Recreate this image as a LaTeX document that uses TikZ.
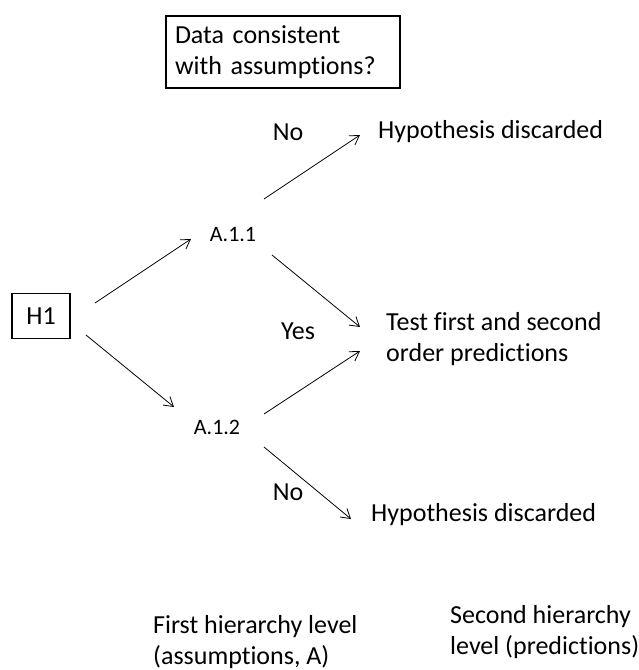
\documentclass[tikz,border=0pt]{standalone}
\usepackage{fontspec}
\setmainfont{Carlito}[Ligatures=NoCommon]
\usetikzlibrary{arrows.meta}
\begin{document}
\begin{tikzpicture}[x=1pt,y=-1pt,
    every node/.style={font=\fontsize{26}{31}\selectfont},
    small/.style={font=\fontsize{22}{25}\selectfont},
    box/.style={draw,line width=1.3pt},
    arr/.style={line width=0.8pt,-{Straight Barb[length=9pt,width=11pt]}}]
                \useasboundingbox (0,0) rectangle (638,670);
                \node (dq) [box,minimum width=234,minimum height=72,align=left,text width=216] at (283,52) {Data consistent\\with assumptions?};
                \node (h1) [box,minimum width=58,minimum height=45] at (41,316) {H1};
                \node (a11) [small] at (233,235) {A.1.1};
                \node (a12) [small] at (217,427) {A.1.2};
                \node (no1) at (288,132) {No};
                \node (hd1) [anchor=west,inner sep=0] at (378,132) {Hypothesis discarded};
                \node (test) [anchor=west,inner sep=0,align=left] at (386,339) {Test first and second\\order predictions};
                \node (yes) at (298,331) {Yes};
                \node (no2) at (288,492) {No};
                \node (hd2) [anchor=west,inner sep=0] at (371,515) {Hypothesis discarded};
                \node (lev1) [anchor=west,inner sep=0,align=left] at (153,642) {First hierarchy level\\(assumptions, A)};
                \node (lev2) [anchor=west,inner sep=0,align=left] at (450,632) {Second hierarchy\\level (predictions)};
                \draw[arr] ([shift={(54,-13)}]h1.center) -- ([shift={(-42,4)}]a11.center);
                \draw[arr] ([shift={(45,19)}]h1.center) -- ([shift={(-43,-20)}]a12.center);
                \draw[arr] ([shift={(31,-36)}]a11.center) -- ([shift={(-18,3)}]hd1.west);
                \draw[arr] ([shift={(39,20)}]a11.center) -- ([shift={(-26,-12)}]test.west);
                \draw[arr] ([shift={(47,-13)}]a12.center) -- ([shift={(-26,12)}]test.west);
                \draw[arr] ([shift={(47,20)}]a12.center) -- ([shift={(-20,4)}]hd2.west);
            \end{tikzpicture}
\end{document}
